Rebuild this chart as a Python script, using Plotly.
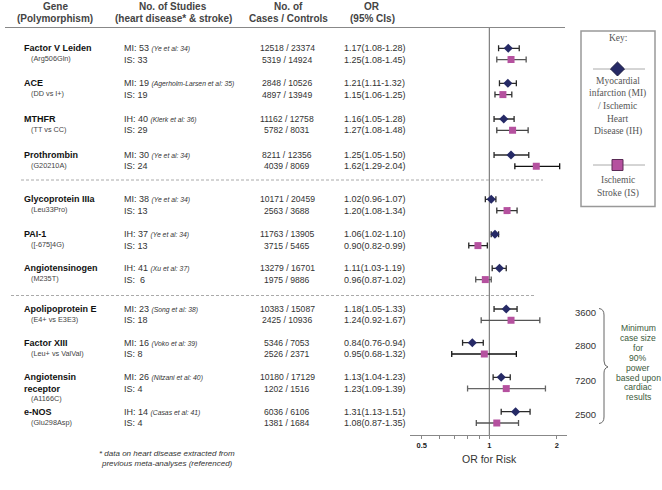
import math
import plotly.graph_objects as go

# ---------------- data ----------------
genes = ["Factor V Leiden", "ACE", "MTHFR", "Prothrombin", "Glycoprotein IIIa", "PAI-1",
         "Angiotensinogen", "Apolipoprotein E", "Factor XIII", "Angiotensin<br>receptor", "e-NOS"]
polymorphisms = ["(Arg506Gln)", "(DD vs I+)", "(TT vs CC)", "(G20210A)", "(Leu33Pro)", "([-675]4G)",
                 "(M235T)", "(E4+ vs E3E3)", "(Leu+ vs ValVal)", "(A1166C)", "(Glu298Asp)"]
heart_type = ["MI", "MI", "IH", "MI", "MI", "IH", "IH", "MI", "MI", "MI", "IH"]
heart_studies = [53, 19, 40, 30, 38, 37, 41, 23, 16, 26, 14]
heart_refs = ["Ye et al: 34", "Agerholm-Larsen et al: 35", "Klerk et al: 36", "Ye et al: 34",
              "Ye et al: 34", "Ye et al: 34", "Xu et al: 37", "Song et al: 38", "Voko et al: 39",
              "Nitzani et al: 40", "Casas et al: 41"]
stroke_studies = [33, 19, 29, 24, 13, 13, " 6", 18, 8, 4, 4]
heart_cases = [12518, 2848, 11162, 8211, 10171, 11763, 13279, 10383, 5346, 10180, 6036]
heart_controls = [23374, 10526, 12758, 12356, 20459, 13905, 16701, 15087, 7053, 17129, 6106]
stroke_cases = [5319, 4897, 5782, 4039, 2563, 3715, 1975, 2425, 2526, 1202, 1381]
stroke_controls = [14924, 13949, 8031, 8069, 3688, 5465, 9886, 10936, 2371, 1516, 1684]
heart_or_text = ["1.17(1.08-1.28)", "1.21(1.11-1.32)", "1.16(1.05-1.28)", "1.25(1.05-1.50)",
                 "1.02(0.96-1.07)", "1.06(1.02-1.10)", "1.11(1.03-1.19)", "1.18(1.05-1.33)",
                 "0.84(0.76-0.94)", "1.13(1.04-1.23)", "1.31(1.13-1.51)"]
stroke_or_text = ["1.25(1.08-1.45)", "1.15(1.06-1.25)", "1.27(1.08-1.48)", "1.62(1.29-2.04)",
                  "1.20(1.08-1.34)", "0.90(0.82-0.99)", "0.96(0.87-1.02)", "1.24(0.92-1.67)",
                  "0.95(0.68-1.32)", "1.23(1.09-1.39)", "1.08(0.87-1.35)"]
# plotted values (as drawn)
heart_or = [1.215, 1.21, 1.16, 1.25, 1.02, 1.06, 1.11, 1.19, 0.84, 1.13, 1.31]
heart_lo = [1.10, 1.11, 1.05, 1.05, 0.96, 1.02, 1.03, 1.05, 0.76, 1.04, 1.13]
heart_hi = [1.36, 1.32, 1.29, 1.50, 1.07, 1.10, 1.19, 1.33, 0.94, 1.24, 1.52]
stroke_or = [1.25, 1.15, 1.27, 1.62, 1.20, 0.89, 0.96, 1.25, 0.95, 1.19, 1.08]
stroke_lo = [1.08, 1.06, 1.08, 1.30, 1.08, 0.81, 0.87, 0.92, 0.68, 0.80, 0.875]
stroke_hi = [1.46, 1.26, 1.49, 2.06, 1.33, 0.98, 1.02, 1.68, 1.32, 1.78, 1.35]
min_case_size = [3600, 2800, 7200, 2500]

# ---------------- layout constants ----------------
W, H = 662, 490
row_y = [48.3, 83.3, 119, 155, 199.3, 234.3, 268.3, 309, 342.7, 377.3, 411.7]
dy = 11.3
stroke_bar_color = ["#555", "#333", "#444", "#111", "#333", "#222", "#555", "#555", "#111", "#666", "#555"]

SANS = "Liberation Sans, Arial, sans-serif"
SERIF = "Liberation Serif, Times New Roman, serif"


def X(p):
    return p / W


def Y(p):
    return 1 - p / H


fig = go.Figure()
annotations = []
shapes = []


def txt(x, y, s, size=9, color="#333", anchor="left", family=SANS, **kw):
    annotations.append(dict(x=X(x), y=Y(y), xref="paper", yref="paper", text=s, showarrow=False,
                            xanchor=anchor, yanchor="middle", align=anchor if anchor != "center" else "center",
                            font=dict(size=size, color=color, family=family), **kw))


# ---------------- forest plot marks ----------------
for i in range(len(genes)):
    fig.add_trace(go.Scatter(
        x=[heart_or[i]], y=[row_y[i]], mode="markers",
        marker=dict(symbol="diamond", size=7, color="#262a66", line=dict(width=0)),
        error_x=dict(type="data", symmetric=False,
                     array=[heart_hi[i] - heart_or[i]], arrayminus=[heart_or[i] - heart_lo[i]],
                     color="#2a2a2a", thickness=1.3, width=3),
        showlegend=False, hoverinfo="skip"))
    fig.add_trace(go.Scatter(
        x=[stroke_or[i]], y=[row_y[i] + dy], mode="markers",
        marker=dict(symbol="square", size=7, color="#b5519f", line=dict(width=0)),
        error_x=dict(type="data", symmetric=False,
                     array=[stroke_hi[i] - stroke_or[i]], arrayminus=[stroke_or[i] - stroke_lo[i]],
                     color=stroke_bar_color[i], thickness=1.3, width=3),
        showlegend=False, hoverinfo="skip"))

# ---------------- table text ----------------
hdr = dict(size=10, color="#444")
txt(55, 7, "<b>Gene</b>", anchor="center", **hdr)
txt(55, 18, "<b>(Polymorphism)</b>", anchor="center", **hdr)
txt(173, 7, "<b>No. of Studies</b>", anchor="center", **hdr)
txt(173, 18, "<b>(heart disease* &amp; stroke)</b>", anchor="center", **hdr)
txt(288, 7, "<b>No. of</b>", anchor="center", **hdr)
txt(288, 18, "<b>Cases / Controls</b>", anchor="center", **hdr)
txt(372, 7, "<b>OR</b>", anchor="center", **hdr)
txt(372, 18, "<b>(95% CIs)</b>", anchor="center", **hdr)

for i in range(len(genes)):
    y1 = row_y[i]
    y2 = row_y[i] + dy
    if "<br>" in genes[i]:
        parts = genes[i].split("<br>")
        txt(21.5, y1, "<b>%s</b>" % parts[0], size=9, color="#111")
        txt(21.5, y2, "<b>%s</b>" % parts[1], size=9, color="#111")
        txt(28.5, y2 + 10, polymorphisms[i], size=7.3, color="#444")
    else:
        txt(21.5, y1, "<b>%s</b>" % genes[i], size=9, color="#111")
        txt(28.5, y2 - 1, polymorphisms[i], size=7.3, color="#444")
    txt(121.5, y1, "%s: %s <span style='font-size:6.8px'><i>(%s)</i></span>"
        % (heart_type[i], heart_studies[i], heart_refs[i]), size=9, color="#333")
    txt(121.5, y2, "IS: %s" % stroke_studies[i], size=9, color="#333")
    txt(287, y1, "%d / %d" % (heart_cases[i], heart_controls[i]), size=8.6, color="#333", anchor="center")
    txt(287, y2, "%d / %d" % (stroke_cases[i], stroke_controls[i]), size=8.6, color="#333", anchor="center")
    txt(342, y1, heart_or_text[i], size=9, color="#333")
    txt(342, y2, stroke_or_text[i], size=9, color="#333")

txt(167, 453.5, "<i>* data on heart disease extracted from</i>", size=8, color="#333", anchor="center")
txt(167, 463.5, "<i>previous meta-analyses (referenced)</i>", size=8, color="#333", anchor="center")

txt(489, 458.5, "OR for Risk", size=10.5, color="#333", anchor="center")

# ---------------- lines ----------------
shapes.append(dict(type="line", xref="paper", yref="paper", x0=X(5), x1=X(565), y0=Y(27.5), y1=Y(27.5),
                   line=dict(color="#888", width=1)))
shapes.append(dict(type="line", xref="paper", yref="paper", x0=X(21), x1=X(543), y0=Y(180), y1=Y(180),
                   line=dict(color="#aaa", width=1, dash="3px,2px")))
shapes.append(dict(type="line", xref="paper", yref="paper", x0=X(11), x1=X(535), y0=Y(295.5), y1=Y(295.5),
                   line=dict(color="#aaa", width=1, dash="3px,2px")))
shapes.append(dict(type="line", xref="x", yref="paper", x0=1, x1=1, y0=Y(27.5), y1=Y(435),
                   line=dict(color="#666", width=1), layer="below"))

# ---------------- key box ----------------
shapes.append(dict(type="rect", xref="paper", yref="paper", x0=X(581), x1=X(655), y0=Y(31), y1=Y(206.5),
                   line=dict(color="#999", width=1.5), fillcolor="rgba(0,0,0,0)"))
kc = 617.5
txt(kc, 38.5, "Key:", size=9.5, color="#555", anchor="center", family=SERIF)
shapes.append(dict(type="line", xref="paper", yref="paper", x0=X(593), x1=X(645), y0=Y(69), y1=Y(69),
                   line=dict(color="#aaa", width=1)))
d = 7
shapes.append(dict(type="path", xref="paper", yref="paper",
                   path="M %f %f L %f %f L %f %f L %f %f Z" % (X(kc), Y(69 - d), X(kc + d), Y(69), X(kc), Y(69 + d), X(kc - d), Y(69)),
                   fillcolor="#262a66", line=dict(color="#1a1a40", width=1)))
for j, s in enumerate(["Myocardial", "infarction (MI)", "/ Ischemic", "Heart", "Disease (IH)"]):
    txt(kc, 80.7 + j * 12.75, s, size=9.5, color="#555", anchor="center", family=SERIF)
shapes.append(dict(type="line", xref="paper", yref="paper", x0=X(593), x1=X(645), y0=Y(165), y1=Y(165),
                   line=dict(color="#aaa", width=1)))
s = 5.5
shapes.append(dict(type="rect", xref="paper", yref="paper", x0=X(kc - s), x1=X(kc + s), y0=Y(165 - s), y1=Y(165 + s),
                   fillcolor="#b5519f", line=dict(color="#5a2a55", width=1)))
txt(kc, 180.3, "Ischemic", size=9.5, color="#555", anchor="center", family=SERIF)
txt(kc, 193.7, "Stroke (IS)", size=9.5, color="#555", anchor="center", family=SERIF)

# ---------------- minimum case size annotation ----------------
for k, v in enumerate(min_case_size):
    txt(585, row_y[7 + k] + 3, str(v), size=9.5, color="#333", anchor="center")
bx = 604
path = ("M %f %f Q %f %f %f %f L %f %f Q %f %f %f %f Q %f %f %f %f L %f %f Q %f %f %f %f" % (
    X(599), Y(308.5), X(bx), Y(309), X(bx), Y(315),
    X(bx), Y(361),
    X(bx), Y(366), X(608), Y(367),
    X(bx), Y(368), X(bx), Y(373),
    X(bx), Y(417),
    X(bx), Y(423), X(599), Y(423.5)))
shapes.append(dict(type="path", xref="paper", yref="paper", path=path, line=dict(color="#666", width=1)))
for j, s2 in enumerate(["Minimum", "case size", "for", "90%", "power", "based upon", "cardiac", "results"]):
    txt(638, 328.3 + j * 9.85, s2, size=8.6, color="#3b5a3b", anchor="center")

# ---------------- axes ----------------
x_lo = 2 ** ((410 - 489.3) / 67.5)
x_hi = 2 ** ((566.7 - 489.3) / 67.5)
fig.update_layout(
    width=W, height=H, margin=dict(l=0, r=0, t=0, b=0),
    paper_bgcolor="white", plot_bgcolor="rgba(0,0,0,0)",
    showlegend=False,
    xaxis=dict(type="log", range=[math.log10(x_lo), math.log10(x_hi)],
               domain=[410 / W, 566.7 / W], anchor="free", position=1 - 435 / H,
               showline=True, linecolor="#888", linewidth=1, showgrid=False, zeroline=False,
               ticks="outside", ticklen=3, tickcolor="#888",
               tickvals=[0.5, 0.6, 0.7, 0.8, 0.9, 1, 2],
               ticktext=["<b>0.5</b>", "", "", "", "", "<b>1</b>", "<b>2</b>"],
               tickfont=dict(size=7.5, color="#222", family=SANS)),
    yaxis=dict(range=[H, 0], domain=[0, 1], visible=False, showgrid=False, zeroline=False),
    annotations=annotations, shapes=shapes,
)

fig.write_html("out.html", config={"displayModeBar": False},
               post_script="document.body.style.margin='0';document.body.style.overflow='hidden';"
                           "document.documentElement.style.overflow='hidden';")
